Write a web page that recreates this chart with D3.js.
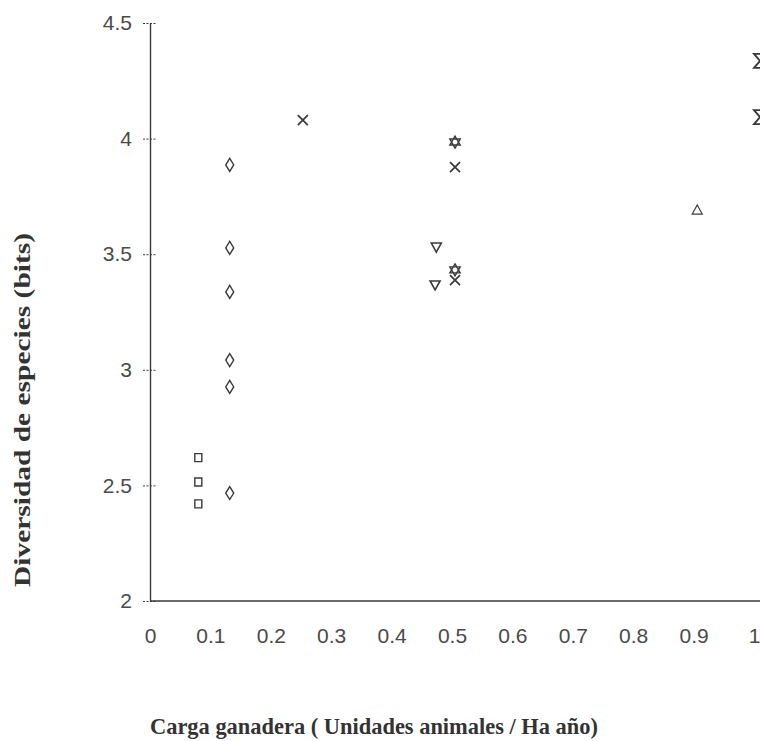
<!DOCTYPE html>
<html>
<head>
<meta charset="utf-8">
<script src="https://cdn.jsdelivr.net/npm/d3@7"></script>
<style>
  html, body { margin: 0; padding: 0; background: #fff; }
  svg { display: block; }
</style>
</head>
<body>
<svg id="chart" width="760" height="741"></svg>
<script>
// ---- Data ----
const xTicks = [0, 0.1, 0.2, 0.3, 0.4, 0.5, 0.6, 0.7, 0.8, 0.9, 1];
const xTickLabels = ["0", "0.1", "0.2", "0.3", "0.4", "0.5", "0.6", "0.7", "0.8", "0.9", "1"];
const yTicks = [2, 2.5, 3, 3.5, 4, 4.5];
const yTickLabels = ["2", "2.5", "3", "3.5", "4", "4.5"];

const squareX = [0.08, 0.08, 0.08];
const squareY = [2.62, 2.515, 2.42];
const diamondX = [0.132, 0.132, 0.132, 0.132, 0.132, 0.132];
const diamondY = [3.886, 3.527, 3.337, 3.042, 2.926, 2.467];
const crossX = [0.253, 0.505, 0.505];
const crossY = [4.08, 3.877, 3.388];
const starX = [0.505, 0.505];
const starY = [3.985, 3.432];
const triDownX = [0.474, 0.472];
const triDownY = [3.531, 3.367];
const triUpX = [0.906];
const triUpY = [3.691];
const hourglassX = [1.01, 1.01];
const hourglassY = [4.336, 4.093];

const xTitle = "Carga ganadera ( Unidades animales / Ha año)";
const yTitle = "Diversidad de especies (bits)";

// ---- Layout ----
const svg = d3.select("#chart");
const ink = "#3a3a3a";
const x = d3.scaleLinear().domain([0, 1]).range([150, 754]);
const y = d3.scaleLinear().domain([2, 4.5]).range([601, 23]);

// Axes
const xAxis = d3.axisBottom(x).tickValues(xTicks)
  .tickFormat((d, i) => xTickLabels[i]).tickSize(0).tickPadding(27);
const gx = svg.append("g").attr("transform", `translate(0,${y(2)})`).call(xAxis);
gx.select(".domain").attr("stroke", ink).attr("stroke-width", 1.4).attr("d", `M${x(0)},0H760`);
gx.selectAll("text").attr("font-family", "Liberation Sans, Arial, sans-serif")
  .attr("font-size", 21).attr("fill", "#4a4a4a");

const yAxis = d3.axisLeft(y).tickValues(yTicks)
  .tickFormat((d, i) => yTickLabels[i]).tickSizeInner(6).tickSizeOuter(0).tickPadding(12);
const gy = svg.append("g").attr("transform", `translate(${x(0)},0)`).call(yAxis);
gy.select(".domain").attr("stroke", ink).attr("stroke-width", 1.4);
gy.selectAll(".tick line").attr("stroke", ink).attr("stroke-width", 1)
  .attr("x1", -7).attr("x2", 7).attr("stroke-dasharray", "2,1.5");
gy.selectAll("text").attr("font-family", "Liberation Sans, Arial, sans-serif")
  .attr("font-size", 21).attr("fill", "#4a4a4a");

// Marker shapes
const shapes = {
  square: "M-3.5,-4H3.5V4H-3.5Z",
  diamond: "M0,-6.5L4,0L0,6.5L-4,0Z",
  cross: "M-5,-5L5,5M5,-5L-5,5",
  triDown: "M-5,-4H5L0,5Z",
  triUp: "M0,-5L5,4H-5Z",
  star: "M0,-6L5.2,3H-5.2Z M0,6L5.2,-3H-5.2Z",
  hourglass: "M-6,-7H6L0,0L6,7H-6L0,0Z"
};

function plot(xs, ys, shape, sw) {
  svg.append("g").selectAll("path")
    .data(xs.map((v, i) => [v, ys[i]]))
    .join("path")
    .attr("transform", d => `translate(${x(d[0])},${y(d[1])})`)
    .attr("d", shapes[shape])
    .attr("fill", "none")
    .attr("stroke", ink)
    .attr("stroke-width", sw)
    .attr("stroke-linejoin", "miter");
}
plot(squareX, squareY, "square", 1.4);
plot(diamondX, diamondY, "diamond", 1.4);
plot(crossX, crossY, "cross", 1.7);
plot(starX, starY, "star", 1.4);
plot(triDownX, triDownY, "triDown", 1.6);
plot(triUpX, triUpY, "triUp", 1.2);
plot(hourglassX, hourglassY, "hourglass", 1.9);

// Titles
svg.append("text")
  .attr("x", 374).attr("y", 734)
  .attr("text-anchor", "middle")
  .attr("font-family", "Liberation Serif, Times New Roman, serif")
  .attr("font-weight", "bold").attr("font-size", 24).attr("fill", "#333")
  .attr("textLength", 448).attr("lengthAdjust", "spacingAndGlyphs")
  .text(xTitle);

svg.append("text")
  .attr("transform", "translate(30,410) rotate(-90)")
  .attr("text-anchor", "middle")
  .attr("font-family", "Liberation Serif, Times New Roman, serif")
  .attr("font-weight", "bold").attr("font-size", 23).attr("fill", "#333")
  .attr("textLength", 354).attr("lengthAdjust", "spacingAndGlyphs")
  .text(yTitle);
</script>
</body>
</html>
